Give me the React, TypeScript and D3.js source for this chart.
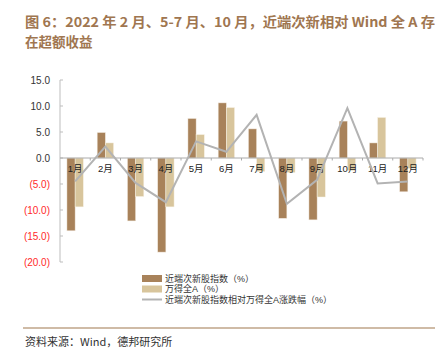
import React from "react";
import * as d3 from "d3";

const months = ["1月","2月","3月","4月","5月","6月","7月","8月","9月","10月","11月","12月"];
const subNew = [-14.0, 4.9, -12.1, -18.1, 7.6, 10.6, 5.6, -11.6, -11.9, 7.1, 2.9, -6.5];
const windA = [-9.4, 2.9, -7.4, -9.4, 4.5, 9.7, -2.6, -2.8, -7.5, -2.4, 7.8, -2.0];
const relative = [-4.5, 2.2, -4.8, -8.5, 3.2, 1.2, 8.3, -8.8, -4.2, 9.6, -4.9, -4.5];
const yTicks = [15, 10, 5, 0, -5, -10, -15, -20];
const legendLabels = ["近端次新股指数（%）", "万得全A（%）", "近端次新股指数相对万得全A涨跌幅（%）"];

const C_DARK = "#a8825a";
const C_LIGHT = "#d8c59c";
const C_LINE = "#b3b3b3";
const C_TITLE = "#a07650";

export default function App() {
  const W = 448, H = 355;
  const x = d3.scaleBand<string>().domain(months).range([60, 423]).paddingInner(0).paddingOuter(0);
  const y = d3.scaleLinear().domain([-20, 15]).range([262, 80]);
  const bw = 8.2;
  const fmt = (v: number) => (v < 0 ? `(${Math.abs(v).toFixed(1)})` : v.toFixed(1));
  const line = d3.line<number>().x((_, i) => x(months[i])! + x.bandwidth() / 2).y(d => y(d));
  const font = "'Liberation Sans', Arial, 'Noto Sans CJK SC', sans-serif";
  const legY = [278.5, 289, 299.5];
  return (
    <svg width={W} height={H} style={{ position: "absolute", left: 0, top: 0 }} fontFamily={font}>
      <rect width={W} height={H} fill="#fff" />
      <text x={25} y={27} fontSize={13.5} fontWeight="bold" fill={C_TITLE} fontFamily="'Noto Sans CJK SC', sans-serif" textLength={410} lengthAdjust="spacingAndGlyphs">
        图 6：2022 年 2 月、5-7 月、10 月，近端次新相对 Wind 全 A 存
      </text>
      <text x={25} y={47} fontSize={13.5} fontWeight="bold" fill={C_TITLE} fontFamily="'Noto Sans CJK SC', sans-serif">在超额收益</text>

      {/* y axis */}
      <line x1={60} x2={60} y1={y(15)} y2={y(-20)} stroke="#bdbdbd" strokeWidth={1} />
      {yTicks.map(t => (
        <g key={t}>
          <line x1={60} x2={63} y1={y(t)} y2={y(t)} stroke="#bdbdbd" />
          <text x={50} y={y(t) + 3.5} fontSize={10} textAnchor="end" fill={t < 0 ? "#ff2a2a" : "#333"}>{fmt(t)}</text>
        </g>
      ))}

      {/* bars */}
      {months.map((m, i) => {
        const cx = x(m)! + x.bandwidth() / 2;
        return (
          <g key={m}>
            <rect x={cx - bw} y={Math.min(y(0), y(subNew[i]))} width={bw} height={Math.abs(y(subNew[i]) - y(0))} fill={C_DARK} stroke="#f3ece2" strokeWidth={0.5} />
            <rect x={cx} y={Math.min(y(0), y(windA[i]))} width={bw} height={Math.abs(y(windA[i]) - y(0))} fill={C_LIGHT} stroke="#f7f1e6" strokeWidth={0.5} />
          </g>
        );
      })}

      {/* x axis */}
      <line x1={60} x2={423} y1={y(0)} y2={y(0)} stroke="#aaaaaa" strokeWidth={1} />
      {months.map((m, i) => (
        <line key={"t" + i} x1={x(m)! + x.bandwidth()} x2={x(m)! + x.bandwidth()} y1={y(0)} y2={y(0) + 2.5} stroke="#aaaaaa" />
      ))}
      {months.map(m => (
        <text key={"l" + m} x={x(m)! + x.bandwidth() / 2} y={y(0) + 14} fontSize={9.5} textAnchor="middle" fill="#222" fontFamily="'Liberation Sans', 'Noto Sans CJK SC', sans-serif">{m}</text>
      ))}

      <path d={line(relative)!} fill="none" stroke={C_LINE} strokeWidth={2} />

      {/* legend */}
      <rect x={142} y={legY[0] - 3.5} width={20} height={7} fill={C_DARK} />
      <rect x={142} y={legY[1] - 3.5} width={20} height={7} fill={C_LIGHT} />
      <line x1={142} x2={162} y1={legY[2]} y2={legY[2]} stroke={C_LINE} strokeWidth={2} />
      {legendLabels.map((l, i) => (
        <text key={l} x={165} y={legY[i]} dy="0.35em" fontSize={9} fill="#333" fontFamily="'Liberation Sans', 'Noto Sans CJK SC', sans-serif">{l}</text>
      ))}

      <line x1={23} x2={435} y1={328} y2={328} stroke="#a0784f" strokeWidth={1.2} />
      <text x={25} y={346} fontSize={11} fill="#333" fontFamily="'Noto Sans CJK SC', sans-serif">资料来源：Wind，德邦研究所</text>
    </svg>
  );
}
